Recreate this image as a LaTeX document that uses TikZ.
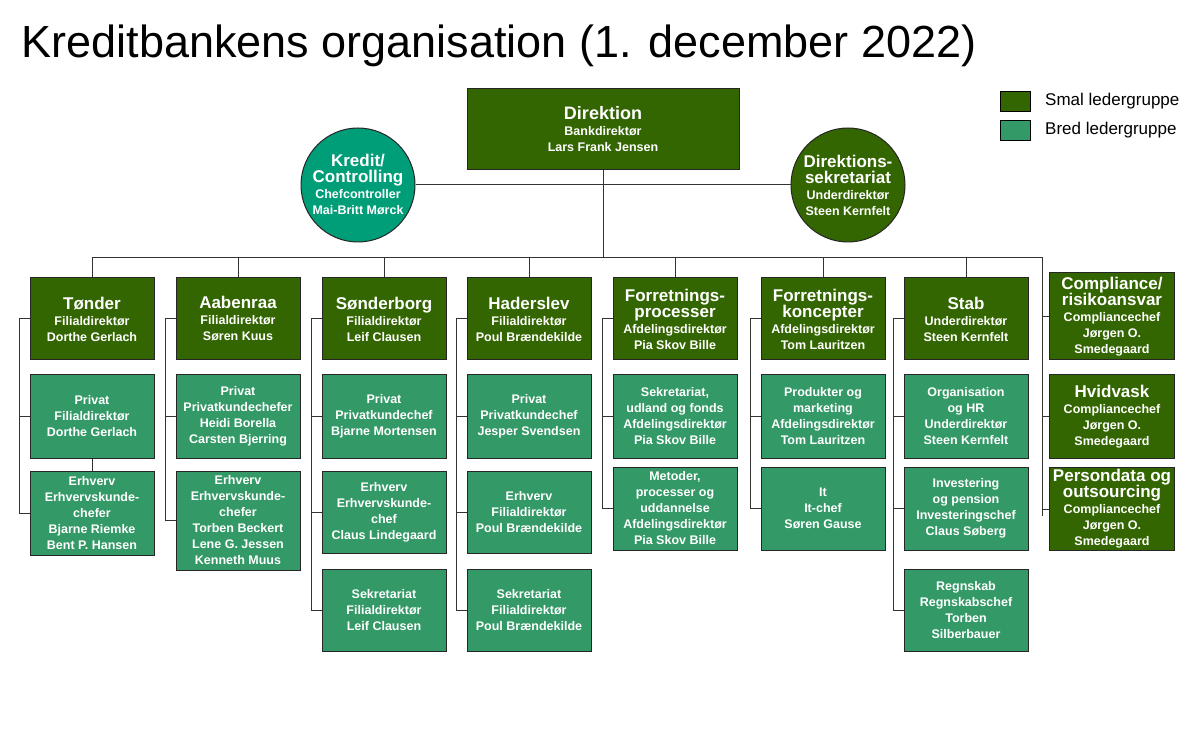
\documentclass[tikz,border=0pt]{standalone}
\usepackage{fontspec}
\setmainfont{Liberation Sans}
\definecolor{dk}{HTML}{336600}
\definecolor{md}{HTML}{339966}
\definecolor{tl}{HTML}{009E78}
\newcommand\bn{\fontsize{17}{20}\selectfont}
\begin{document}
\begin{tikzpicture}[x=1pt,y=-1pt,
 bx/.style={draw=black!85,line width=1pt,text=white,align=center,inner sep=1pt,minimum width=124pt,font=\bfseries\fontsize{12.5}{16}\selectfont},
 smal/.style={bx,fill=dk},
 bred/.style={bx,fill=md},
 circ/.style={circle,draw=black!85,line width=1pt,text=white,align=center,inner sep=0pt,minimum size=114pt,font=\bfseries\fontsize{12.5}{16}\selectfont},
 ln/.style={draw=black!80,line width=1pt}]
\useasboundingbox (0,0) rectangle (1200,743);
\node[anchor=base west,font=\fontsize{45}{50}\selectfont] (title) at (18,58) {Kreditbankens organisation (1. december 2022)};
% legend
\node[draw=black,fill=dk,minimum width=30pt,minimum height=20pt,inner sep=0pt] (l1) at (1015,101) {};
\node[draw=black,fill=md,minimum width=30pt,minimum height=20pt,inner sep=0pt] (l2) at (1015,130) {};
\node[anchor=west,font=\fontsize{17}{20}\selectfont,inner sep=0pt] (l1t) at (1045,101) {Smal ledergruppe};
\node[anchor=west,font=\fontsize{17}{20}\selectfont,inner sep=0pt] (l2t) at (1045,130) {Bred ledergruppe};
% top
\node[smal,minimum width=272pt,minimum height=81pt] (dir) at (603,129.5) {{\fontsize{18}{22}\selectfont Direktion}\\Bankdirektør\\Lars Frank Jensen};
\node[circ,fill=tl] (kred) at (358,185) {{\bn Kredit/}\\{\bn Controlling}\\Chefcontroller\\Mai-Britt Mørck};
\node[circ,fill=dk] (dsek) at (848,185) {{\bn Direktions-}\\{\bn sekretariat}\\Underdirektør\\Steen Kernfelt};
\coordinate (bus) at (603,258);
\draw[ln] (kred.east) -- (dsek.west);
\draw[ln] (dir.south) -- (bus);
% main row
\node[smal,minimum height=82pt] (t) at (92,319) {{\bn Tønder}\\Filialdirektør\\Dorthe Gerlach};
\node[smal,minimum height=82pt] (a) at (238,319) {{\bn Aabenraa}\\Filialdirektør\\Søren Kuus};
\node[smal,minimum height=82pt] (s) at (384,319) {{\bn Sønderborg}\\Filialdirektør\\Leif Clausen};
\node[smal,minimum height=82pt] (h) at (529,319) {{\bn Haderslev}\\Filialdirektør\\Poul Brændekilde};
\node[smal,minimum height=82pt] (fp) at (675,319) {{\bn Forretnings-}\\{\bn processer}\\Afdelingsdirektør\\Pia Skov Bille};
\node[smal,minimum height=82pt] (fk) at (823,319) {{\bn Forretnings-}\\{\bn koncepter}\\Afdelingsdirektør\\Tom Lauritzen};
\node[smal,minimum height=82pt] (st) at (966,319) {{\bn Stab}\\Underdirektør\\Steen Kernfelt};
\node[smal,minimum width=125pt,minimum height=87pt] (c) at (1112,316.5) {{\bn Compliance/}\\{\bn risikoansvar}\\Compliancechef\\Jørgen O.\\Smedegaard};
\coordinate (busL) at (92,258);
\coordinate (busR) at (1042,258);
\draw[ln] (busL) -- (busR) -- (1042,516);
\foreach \n in {t,a,s,h,fp,fk,st}{\draw[ln] (\n.north) -- (\n.north |- busL);}
% sub boxes
\node[bred,minimum height=83pt] (t1) at (92,416.5) {Privat\\Filialdirektør\\Dorthe Gerlach};
\node[bred,minimum height=84pt] (t2) at (92,513) {Erhverv\\Erhvervskunde-\\chefer\\Bjarne Riemke\\Bent P. Hansen};
\node[bred,minimum height=83pt] (a1) at (238,416.5) {Privat\\Privatkundechefer\\Heidi Borella\\Carsten Bjerring};
\node[bred,minimum height=99pt] (a2) at (238,520.5) {Erhverv\\Erhvervskunde-\\chefer\\Torben Beckert\\Lene G. Jessen\\Kenneth Muus};
\node[bred,minimum height=83pt] (s1) at (384,416.5) {Privat\\Privatkundechef\\Bjarne Mortensen};
\node[bred,minimum height=82pt] (s2) at (384,512) {Erhverv\\Erhvervskunde-\\chef\\Claus Lindegaard};
\node[bred,minimum height=82pt] (s3) at (384,610) {Sekretariat\\Filialdirektør\\Leif Clausen};
\node[bred,minimum height=83pt] (h1) at (529,416.5) {Privat\\Privatkundechef\\Jesper Svendsen};
\node[bred,minimum height=82pt] (h2) at (529,512) {Erhverv\\Filialdirektør\\Poul Brændekilde};
\node[bred,minimum height=82pt] (h3) at (529,610) {Sekretariat\\Filialdirektør\\Poul Brændekilde};
\node[bred,minimum height=83pt] (fp1) at (675,416.5) {Sekretariat,\\udland og fonds\\Afdelingsdirektør\\Pia Skov Bille};
\node[bred,minimum height=83pt] (fp2) at (675,508.5) {Metoder,\\processer og\\uddannelse\\Afdelingsdirektør\\Pia Skov Bille};
\node[bred,minimum height=83pt] (fk1) at (823,416.5) {Produkter og\\marketing\\Afdelingsdirektør\\Tom Lauritzen};
\node[bred,minimum height=83pt] (fk2) at (823,508.5) {It\\It-chef\\Søren Gause};
\node[bred,minimum height=83pt] (st1) at (966,416.5) {Organisation\\og HR\\Underdirektør\\Steen Kernfelt};
\node[bred,minimum height=83pt] (st2) at (966,508.5) {Investering\\og pension\\Investeringschef\\Claus Søberg};
\node[bred,minimum height=82pt] (st3) at (966,610) {Regnskab\\Regnskabschef\\Torben\\Silberbauer};
\node[smal,minimum width=125pt,minimum height=83pt] (c1) at (1112,416.5) {{\bn Hvidvask}\\Compliancechef\\Jørgen O.\\Smedegaard};
\node[smal,minimum width=125pt,minimum height=83pt] (c2) at (1112,509) {{\bn Persondata og}\\{\bn outsourcing}\\Compliancechef\\Jørgen O.\\Smedegaard};
% spines
\draw[ln] (t.west) -- ++(-10,0) |- (t2.west); \draw[ln] (t1.west) -- ++(-10,0);
\draw[ln] (t1.south) -- (t2.north);
\draw[ln] (a.west) -- ++(-10,0) |- (a2.west); \draw[ln] (a1.west) -- ++(-10,0);
\draw[ln] (s.west) -- ++(-10,0) |- (s3.west); \draw[ln] (s1.west) -- ++(-10,0); \draw[ln] (s2.west) -- ++(-10,0);
\draw[ln] (h.west) -- ++(-10,0) |- (h3.west); \draw[ln] (h1.west) -- ++(-10,0); \draw[ln] (h2.west) -- ++(-10,0);
\draw[ln] (fp.west) -- ++(-10,0) |- (fp2.west); \draw[ln] (fp1.west) -- ++(-10,0);
\draw[ln] (fk.west) -- ++(-10,0) |- (fk2.west); \draw[ln] (fk1.west) -- ++(-10,0);
\draw[ln] (st.west) -- ++(-10,0) |- (st3.west); \draw[ln] (st1.west) -- ++(-10,0); \draw[ln] (st2.west) -- ++(-10,0);
\draw[ln] (c.west) -- (c.west -| busR); \draw[ln] (c1.west) -- (c1.west -| busR); \draw[ln] (c2.west) -- (c2.west -| busR);
\end{tikzpicture}
\end{document}
